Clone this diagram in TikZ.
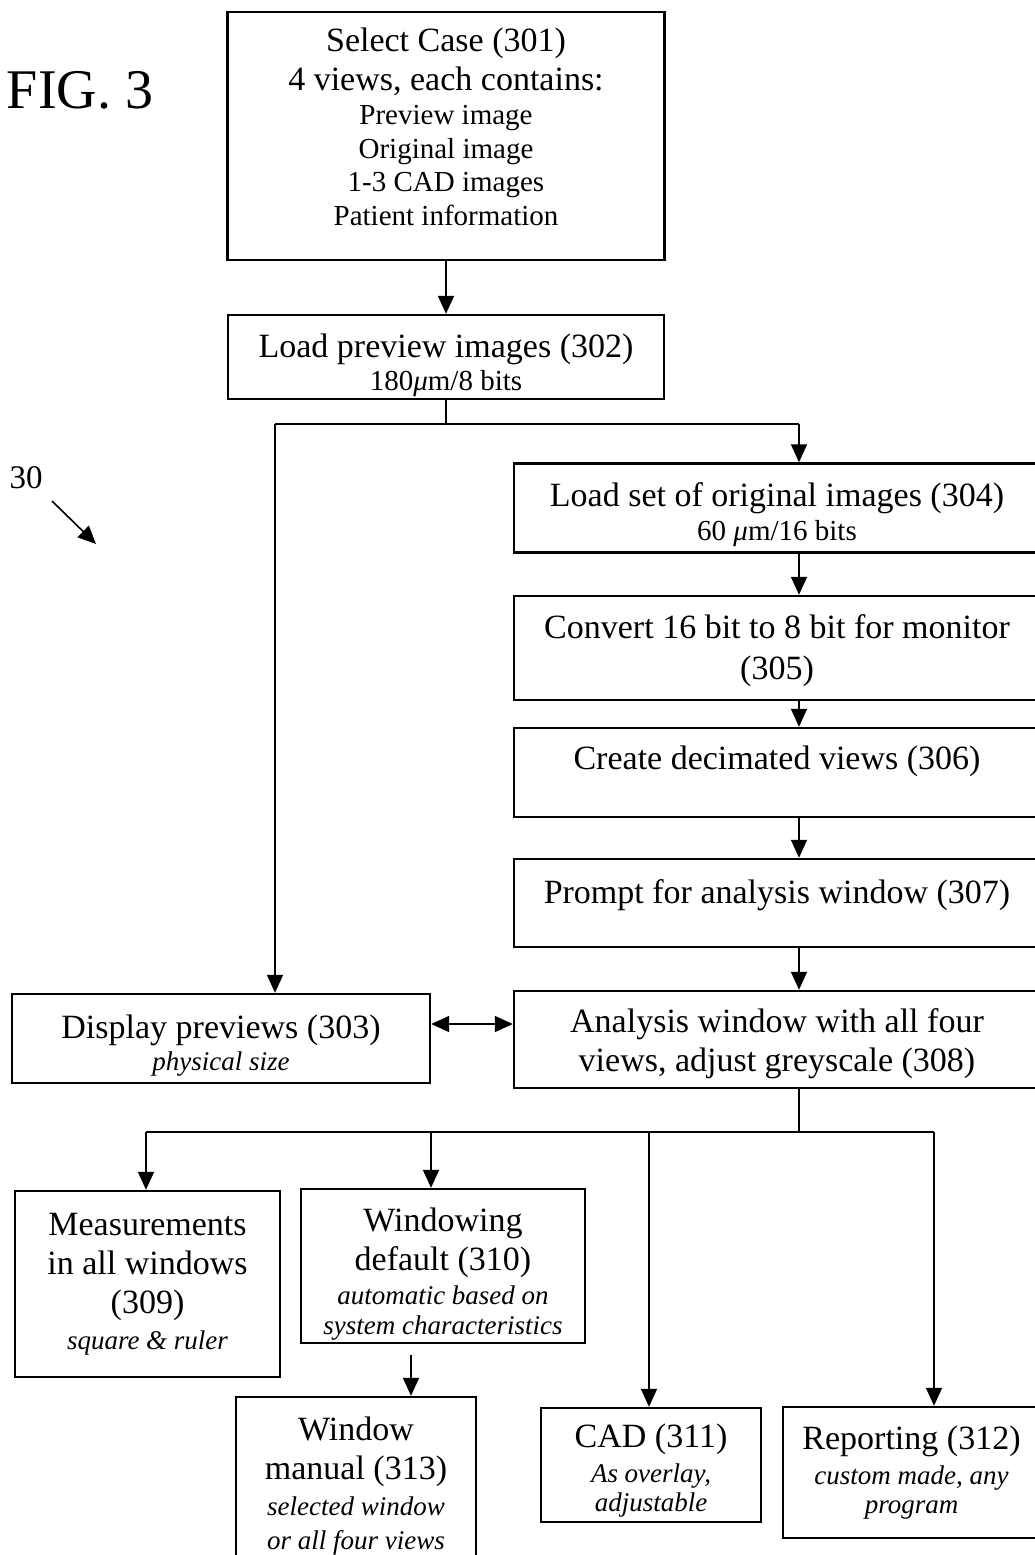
\documentclass[tikz,border=0pt]{standalone}
\usepackage{fontspec}
\setmainfont{Liberation Serif}
\usetikzlibrary{arrows.meta}
\tikzset{>={Triangle[length=18pt,width=16pt]}}

\newcommand{\bigtxt}{\fontsize{34}{39}\selectfont}
\newcommand{\subtxt}{\fontsize{29}{34}\selectfont}
\newcommand{\notetxt}{\fontsize{27}{32}\selectfont\itshape}
\newcommand{\lift}[1]{\rule{0pt}{#1}}

\tikzset{
  stepbox/.style={draw,rectangle,line width=2.4pt,inner sep=0pt,align=center,font=\bigtxt},
  flow/.style={line width=1.6pt},
  raised/.style={text depth=29pt},
}

\begin{document}
\begin{tikzpicture}[x=1pt,y=-1pt]
\useasboundingbox (0,0) rectangle (1035,1555);
\clip (0,0) rectangle (1035,1555);

%%% Title and reference numeral
\node (fig) at (80,90) {\fontsize{56}{60}\selectfont FIG. 3};
\node (ref30) at (26,478) {\fontsize{33}{36}\selectfont 30};
\coordinate (ref30tail) at (52,501);
\coordinate (ref30tip) at (96,544);
\draw [->,flow] (ref30tail) -- (ref30tip);

%%% Top of the chart
\node[stepbox,minimum width=437pt,minimum height=248pt] (s301) at (446,136) {Select Case (301)\\4 views, each contains:\\[-5pt]\subtxt Preview image\\[-5pt]\subtxt Original image\\[-6pt]\subtxt 1-3 CAD images\\[-5pt]\subtxt Patient information\rule[-18pt]{0pt}{18pt}};
\node[stepbox,minimum width=436pt,minimum height=84pt] (s302) at (446,357) {\lift{41pt}Load preview images (302)\\[-6pt]\subtxt 180\textit{μ}m/8 bits};
\draw [->,flow] (s301) -- (s302);

%%% Split into preview branch and original branch
\coordinate (fork) at (446,424);
\coordinate (colL) at (275,424);
\coordinate (colR) at (799,424);
\draw [flow] (s302) -- (fork);
\draw [flow] (colL) -- (colR);

%%% Right column
\node[stepbox,minimum width=526pt,minimum height=89pt] (s304) at (777,508) {\lift{37pt}Load set of original images (304)\\[-5pt]\subtxt 60 \textit{μ}m/16 bits};
\node[stepbox,minimum width=526pt,minimum height=104pt] (s305) at (777,648) {\lift{30pt}Convert 16 bit to 8 bit for monitor\\[2pt](305)};
\node[stepbox,raised,minimum width=526pt,minimum height=89pt] (s306) at (777,772.5) {Create decimated views (306)};
\node[stepbox,raised,minimum width=526pt,minimum height=88pt] (s307) at (777,903) {\lift{30pt}Prompt for analysis window (307)};
\node[stepbox,minimum width=526pt,minimum height=97pt] (s308) at (777,1039.5) {\lift{33pt}Analysis window with all four\\views, adjust greyscale (308)};

\draw [->,flow] (colR) -- (colR |- s304.north);
\draw [->,flow] (s304.south -| colR) -- (s305.north -| colR);
\draw [->,flow] (s305.south -| colR) -- (s306.north -| colR);
\draw [->,flow] (s306.south -| colR) -- (s307.north -| colR);
\draw [->,flow] (s307.south -| colR) -- (s308.north -| colR);

%%% Left column
\node[stepbox,minimum width=418pt,minimum height=89pt] (s303) at (221,1038.5) {\lift{38pt}Display previews (303)\\[-7pt]\notetxt physical size};
\draw [->,flow] (colL) -- (colL |- s303.north);

\coordinate (link) at (470,1024);
\draw [<->,flow] (s303.east |- link) -- (s308.west |- link);

%%% Tools below the analysis window
\node[stepbox,minimum width=265pt,minimum height=186pt] (s309) at (147.5,1284) {Measurements\\in all windows\\(309)\\[-3pt]\notetxt square \& ruler};
\node[stepbox,minimum width=284pt,minimum height=154pt] (s310) at (443,1266) {\lift{40pt}Windowing\\default (310)\\[-5pt]\notetxt automatic based on\\[-9pt]\notetxt system characteristics};
\node[stepbox,minimum width=240pt,minimum height=178pt] (s313) at (356,1486) {Window\\manual (313)\\[-3pt]\notetxt selected window\\[-5pt]\notetxt or all four views};
\node[stepbox,minimum width=220pt,minimum height=114pt] (s311) at (651,1465) {\lift{35pt}CAD (311)\\[-4pt]\notetxt As overlay,\\[-10pt]\notetxt adjustable};
\node[stepbox,minimum width=257pt,minimum height=131pt] (s312) at (911.5,1472.5) {Reporting (312)\\[-4pt]\notetxt custom made, any\\[-10pt]\notetxt program};

\coordinate (bus) at (799,1132);
\coordinate (b309) at (146,1132);
\coordinate (b310) at (431,1132);
\coordinate (b311) at (649,1132);
\coordinate (b312) at (934,1132);
\draw [flow] (s308.south -| bus) -- (bus);
\draw [flow] (b309) -- (b312);
\draw [->,flow] (b309) -- (b309 |- s309.north);
\draw [->,flow] (b310) -- (b310 |- s310.north);
\draw [->,flow] (b311) -- (b311 |- s311.north);
\draw [->,flow] (b312) -- (b312 |- s312.north);

\coordinate (a313) at (411,1343);
\draw [->,flow,shorten <=11pt] (s310.south -| a313) -- (s313.north -| a313);

\end{tikzpicture}
\end{document}
